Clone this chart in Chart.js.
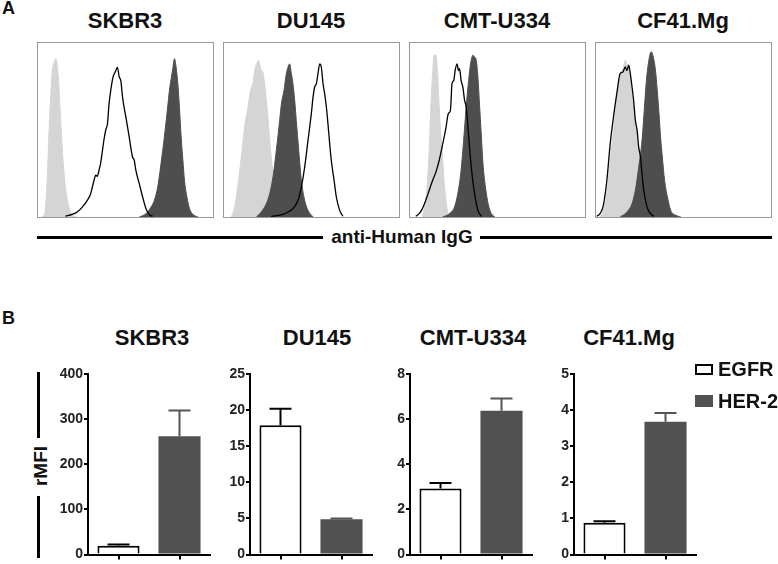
<!DOCTYPE html>
<html>
<head>
<meta charset="utf-8">
<script src="https://cdn.jsdelivr.net/npm/chart.js@4/dist/chart.umd.min.js"></script>
<style>
  body { margin: 0; width: 778px; height: 564px; position: relative; overflow: hidden; background: #fff;
         font-family: "Liberation Sans", Arial, sans-serif; font-weight: bold; color: #111; }
  .abs { position: absolute; }
  .title { position: absolute; width: 200px; text-align: center; font-size: 22px; line-height: 22px; }
  .box { position: absolute; top: 42px; width: 175px; height: 174px; border: 1px solid #9a9a9a; }
  .box canvas { display: block; }
  .hline { position: absolute; height: 3px; background: #000; }
  .vline { position: absolute; width: 3px; background: #000; }
</style>
</head>
<body>
<div class="abs" style="left:2px;top:-2px;font-size:18px;">A</div>
<div class="abs" style="left:2px;top:308px;font-size:18px;">B</div>

<div class="title" style="left:25px;top:10px;">SKBR3</div>
<div class="title" style="left:211px;top:10px;">DU145</div>
<div class="title" style="left:397px;top:10px;">CMT-U334</div>
<div class="title" style="left:583px;top:10px;">CF41.Mg</div>

<div class="box" style="left:37px;"><canvas id="h0" width="175" height="174"></canvas></div>
<div class="box" style="left:223px;"><canvas id="h1" width="175" height="174"></canvas></div>
<div class="box" style="left:409px;"><canvas id="h2" width="175" height="174"></canvas></div>
<div class="box" style="left:595px;"><canvas id="h3" width="175" height="174"></canvas></div>

<div class="hline" style="left:37px;top:236px;width:286px;"></div>
<div class="abs" style="left:312px;top:226px;width:180px;text-align:center;font-size:19px;">anti-Human IgG</div>
<div class="hline" style="left:480px;top:236px;width:292px;"></div>

<div class="title" style="left:52px;top:327px;">SKBR3</div>
<div class="title" style="left:217px;top:327px;">DU145</div>
<div class="title" style="left:373px;top:327px;">CMT-U334</div>
<div class="title" style="left:529px;top:327px;">CF41.Mg</div>

<div class="vline" style="left:37px;top:372px;height:66px;"></div>
<div class="abs" style="left:11px;top:455px;width:60px;text-align:center;font-size:19px;transform:rotate(-90deg);">rMFI</div>
<div class="vline" style="left:37px;top:496px;height:62px;"></div>

<canvas id="b0" class="abs" style="left:52px;top:360px;" width="166" height="204"></canvas>
<canvas id="b1" class="abs" style="left:214px;top:360px;" width="166" height="204"></canvas>
<canvas id="b2" class="abs" style="left:374px;top:360px;" width="166" height="204"></canvas>
<canvas id="b3" class="abs" style="left:538px;top:360px;" width="166" height="204"></canvas>

<div class="abs" style="left:695px;top:364px;width:14px;height:7px;border:2px solid #000;"></div>
<div class="abs" style="left:718px;top:358px;font-size:20px;">EGFR</div>
<div class="abs" style="left:695px;top:395px;width:18px;height:12px;background:#515151;"></div>
<div class="abs" style="left:718px;top:390px;font-size:20px;">HER-2</div>

<script>
  // Panel A: flow histograms, [channel %, count % of box height]
  var skbr3Iso = [[2,0],[3.8,2],[5.2,21],[6.5,54],[8,82],[9.6,90],[10.3,91],[11.5,82],[12.8,59],[14.2,34],[15.7,17],[17.6,6],[20.5,0.4],[22,0]];
  var skbr3Egfr = [[15.7,0.4],[19.5,1.5],[22.4,2.9],[25.3,5.7],[28.2,9.6],[30.1,13.4],[32,21],[33,24],[33.9,23.4],[34.9,27],[35.8,31],[37.7,44.4],[38.7,50],[39.7,53.6],[40.6,65],[41.6,73],[42.9,80.5],[44.1,83.3],[45.4,86],[46.4,80.5],[47.3,78.5],[48.3,69],[49.2,63],[50.2,57.5],[52.1,46],[54,34.5],[55,32.6],[55.9,27],[57.9,19],[59.8,11.5],[61.7,4.8],[63.6,1.5],[65.5,0.4]];
  var skbr3Her2 = [[57.9,0],[61.7,1.9],[64.6,5.7],[66.5,9.6],[68.4,17.2],[70.3,30.7],[72.2,46],[74.1,63.2],[75.1,72.8],[76.1,79.5],[77,85.2],[78,91],[78.9,86.2],[79.9,76.6],[80.8,63.2],[81.8,46],[82.8,32.6],[83.7,21],[85.1,11.5],[86.6,4.8],[88.5,1.5],[91.4,0]];

  var du145Iso = [[4.2,0],[6.1,5.7],[8,19],[9.9,34.5],[11.8,52],[13.7,63],[15.2,73],[16.6,77],[17.5,84],[19,89],[19.8,90],[21,85],[22.3,83],[23.2,77],[24.2,67],[25.1,57.5],[26.1,44],[27,34.5],[29,19],[30.9,9.6],[32.8,3.8],[35.6,0]];
  var du145Egfr = [[27,0.4],[33.7,1.5],[36.6,2.9],[39.4,4.8],[42.3,9.6],[44.2,17.2],[46.1,28.7],[48,44],[49.9,59.4],[50.9,69],[51.8,74.7],[52.8,76.6],[53.7,82.4],[54.7,88],[55.6,86.2],[56.6,76.6],[57.5,70.9],[58.5,63.2],[59.4,53.6],[60.4,42],[61.3,32.6],[62.9,21],[64.2,11.5],[66.1,3.8],[68,0.4]];
  var du145Her2 = [[18.5,0],[21.3,2.9],[24.2,7.7],[26.1,13.4],[28,23],[29.9,38.3],[31.8,55.5],[32.8,65],[34.3,72.8],[35.6,82.4],[36.6,86.2],[37.5,88],[38.5,82.4],[39.4,76.6],[40.4,67],[41.3,55.5],[42.7,38.3],[44.2,21],[46.1,9.6],[48,3.8],[50.9,0]];

  var cmtIso = [[7.1,0],[9,9.6],[10,21],[11,40],[11.9,63],[12.9,82.4],[13.8,93],[14.8,93],[15.8,82.4],[16.7,63],[17.7,46],[18.7,32.6],[19.6,19],[20.6,9.6],[21.5,2.9],[23.5,0]];
  var cmtEgfr = [[3.3,0.4],[5.2,1.9],[7.1,4.8],[9,9.6],[11,15.4],[12.9,21],[14.8,25.8],[16.7,32.6],[18.7,42],[20.6,51.7],[21.9,59.4],[23.1,61.3],[24,76.6],[25,78.5],[25.8,84.2],[26.9,88],[27.7,84.2],[28.3,85.2],[29.2,78.5],[30.2,74.7],[31.2,67],[32.1,63.2],[33.1,51.7],[35,28.7],[36.9,13.4],[38.8,3.8],[40.8,0.4]];
  var cmtHer2 = [[18.7,0],[22.5,1.9],[25.4,5.7],[27.3,13.4],[29.2,26.8],[30.8,46],[32.1,63.2],[33.5,78.5],[34.6,88],[36,93],[36.9,92],[37.9,90],[38.8,80.5],[39.8,63.2],[40.8,46],[41.7,30.7],[43.1,17.2],[44.6,7.7],[46.5,1.9],[48.5,0]];

  var cf41Iso = [[2.3,0],[4.2,3.8],[6.2,13.4],[8.1,32.6],[10,50],[11.9,67],[12.9,76.6],[13.8,82.4],[15.4,85.2],[16.7,90],[17.7,88],[18.7,86.2],[19.6,78.5],[20.6,70.9],[21.5,61.3],[22.5,53.6],[23.5,44],[24.4,36.4],[25.4,28.7],[26.3,19],[27.3,11.5],[29.2,3.8],[32.1,0]];
  var cf41Egfr = [[0.4,0.4],[2.3,1.9],[4.2,6.7],[6.2,21],[8.1,42],[10,57.5],[11.9,71],[13.8,82.4],[15.4,83.3],[16.7,86.2],[17.7,84.2],[18.7,87.2],[19.6,82.4],[20.6,74.7],[21.5,67],[22.5,55.5],[23.5,49.8],[24.4,40.2],[25.4,34.5],[26.3,25],[27.3,15.4],[29.2,5.7],[31.2,1.9],[33.1,0.4]];
  var cf41Her2 = [[13.8,0],[17.7,2.9],[20.6,7.7],[22.5,15.4],[24.4,28.7],[26.3,44],[27.7,63.2],[28.8,78.5],[30.2,90],[31.5,95],[32.7,92],[34,84.2],[35,72.8],[36,59.4],[36.9,46],[37.9,34.5],[39.2,21],[40.8,11.5],[42.7,3.8],[45.6,1],[48.5,0]];

  // Panel B: rMFI mean and SD
  var markers = ['EGFR', 'HER-2'];
  var egfrMean = [19.5, 17.9, 2.93, 0.88];
  var egfrSd = [3, 2.3, 0.24, 0.04];
  var her2Mean = [262, 4.9, 6.37, 3.68];
  var her2Sd = [57, 0.1, 0.55, 0.24];
  var yMax = [400, 25, 8, 5];
  var yStep = [100, 5, 2, 1];

  var FONT = '"Liberation Sans", Arial, sans-serif';

  function toXY(pairs) {
    return pairs.map(function(p) { return { x: p[0], y: p[1] }; });
  }

  function histogram(id, iso, egfr, her2) {
    var line = { pointRadius: 0, borderWidth: 1, cubicInterpolationMode: 'monotone' };
    new Chart(document.getElementById(id), {
      type: 'line',
      data: {
        datasets: [
          Object.assign({ data: toXY(egfr), borderColor: '#000', fill: false }, line, { borderWidth: 1.3 }),
          Object.assign({ data: toXY(her2), borderColor: '#4e4e4e', backgroundColor: '#4e4e4e', fill: 'origin' }, line),
          Object.assign({ data: toXY(iso), borderColor: '#d5d5d5', backgroundColor: '#d5d5d5', fill: 'origin' }, line)
        ]
      },
      options: {
        responsive: false,
        animation: false,
        events: [],
        layout: { padding: 0 },
        plugins: { legend: { display: false }, tooltip: { enabled: false } },
        scales: {
          x: { type: 'linear', display: false, min: 0, max: 100 },
          y: { display: false, min: 0, max: 100 }
        }
      }
    });
  }

  // draws the upper SD whisker of each bar
  var errorBars = {
    id: 'errorBars',
    afterDatasetsDraw: function(chart) {
      var ctx = chart.ctx, y = chart.scales.y, ds = chart.data.datasets[0];
      chart.getDatasetMeta(0).data.forEach(function(bar, j) {
        var top = y.getPixelForValue(ds.data[j] + ds.errors[j]);
        ctx.save();
        ctx.strokeStyle = ds.errorColor[j];
        ctx.lineWidth = 2;
        ctx.beginPath();
        ctx.moveTo(bar.x, bar.y);
        ctx.lineTo(bar.x, top);
        ctx.moveTo(bar.x - 11, top);
        ctx.lineTo(bar.x + 11, top);
        ctx.stroke();
        ctx.restore();
      });
    }
  };

  function barChart(id, i) {
    new Chart(document.getElementById(id), {
      type: 'bar',
      data: {
        labels: markers,
        datasets: [{
          data: [egfrMean[i], her2Mean[i]],
          errors: [egfrSd[i], her2Sd[i]],
          errorColor: ['#000', '#555'],
          backgroundColor: ['#fff', '#515151'],
          borderColor: ['#000', '#515151'],
          borderWidth: [2, 0],
          barPercentage: 0.69,
          categoryPercentage: 1
        }]
      },
      options: {
        responsive: false,
        animation: false,
        events: [],
        layout: { padding: { top: 14, right: 8, bottom: 0, left: 0 } },
        plugins: { legend: { display: false }, tooltip: { enabled: false } },
        scales: {
          x: {
            grid: { offset: false, drawOnChartArea: false, drawTicks: true, tickLength: 5, color: '#000', lineWidth: 2 },
            border: { color: '#000', width: 2 },
            ticks: { display: false },
            afterFit: function(s) { s.height = 5; }
          },
          y: {
            min: 0,
            max: yMax[i],
            ticks: { stepSize: yStep[i], color: '#222', padding: 1, font: { family: FONT, weight: 'bold', size: 14 } },
            grid: { drawOnChartArea: false, tickLength: 4, color: '#000', lineWidth: 2 },
            border: { color: '#000', width: 2 },
            afterFit: function(s) { s.width = 36; }
          }
        }
      },
      plugins: [errorBars]
    });
  }

  histogram('h0', skbr3Iso, skbr3Egfr, skbr3Her2);
  histogram('h1', du145Iso, du145Egfr, du145Her2);
  histogram('h2', cmtIso, cmtEgfr, cmtHer2);
  histogram('h3', cf41Iso, cf41Egfr, cf41Her2);

  for (var i = 0; i < 4; i++) barChart('b' + i, i);
</script>
</body>
</html>
